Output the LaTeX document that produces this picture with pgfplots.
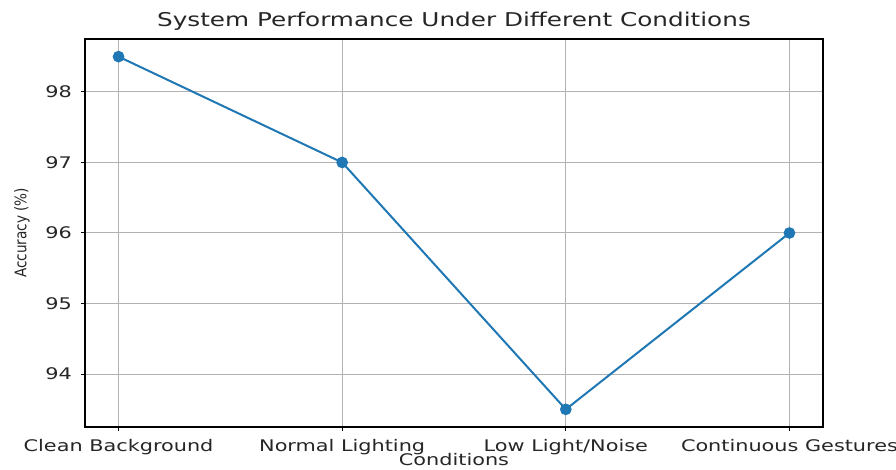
\documentclass[border=0pt]{standalone}
\usepackage{pgfplots}
\pgfplotsset{compat=1.18}
\usepackage{fontspec}
\setmainfont{DejaVu Sans}[FakeStretch=1.3]
\newfontfamily\ylfont{DejaVu Sans}[FakeStretch=0.85]
\definecolor{mplblue}{HTML}{1F77B4}
\begin{document}
\begin{tikzpicture}
\path[use as bounding box] (0,0) rectangle (448pt,235pt);
\begin{axis}[
  at={(42.5pt,21.5pt)}, anchor=south west,
  width=369pt, height=194pt, scale only axis,
  xmin=-0.15, xmax=3.15, ymin=93.25, ymax=98.75,
  xtick={0,1,2,3},
  xticklabels={Clean Background, Normal Lighting, Low Light/Noise, Continuous Gestures},
  ytick={94,95,96,97,98},
  xtick pos=bottom, ytick pos=left,
  tick align=outside, major tick length=2pt,
  tick style={black, line width=0.5pt},
  grid=major,
  major grid style={color=black!30, line width=0.5pt},
  axis line style={black, line width=0.6pt},
  ticklabel style={font=\fontsize{8}{9}\selectfont, text=black!85},
  xticklabel style={yshift=-0.5pt},
  yticklabel style={xshift=-1pt},
  /pgf/number format/assume math mode=true,
  title={System Performance Under Different Conditions},
  title style={font=\fontsize{9.5}{11}\selectfont, text=black!85, at={(0.5,1)}, anchor=base, yshift=0pt},
  xlabel={Conditions},
  xlabel style={font=\fontsize{8}{9}\selectfont, text=black!85, yshift=7.5pt},
  ylabel={Accuracy (\%)},
  ylabel style={font=\ylfont\fontsize{8}{9}\selectfont, text=black!85, yshift=1pt},
]
\addplot[color=mplblue, line width=1pt, mark=*, mark size=2.4pt, mark options={fill=mplblue, draw=mplblue}]
  coordinates {(0,98.5) (1,97) (2,93.5) (3,96)};
\end{axis}
\end{tikzpicture}
\end{document}
